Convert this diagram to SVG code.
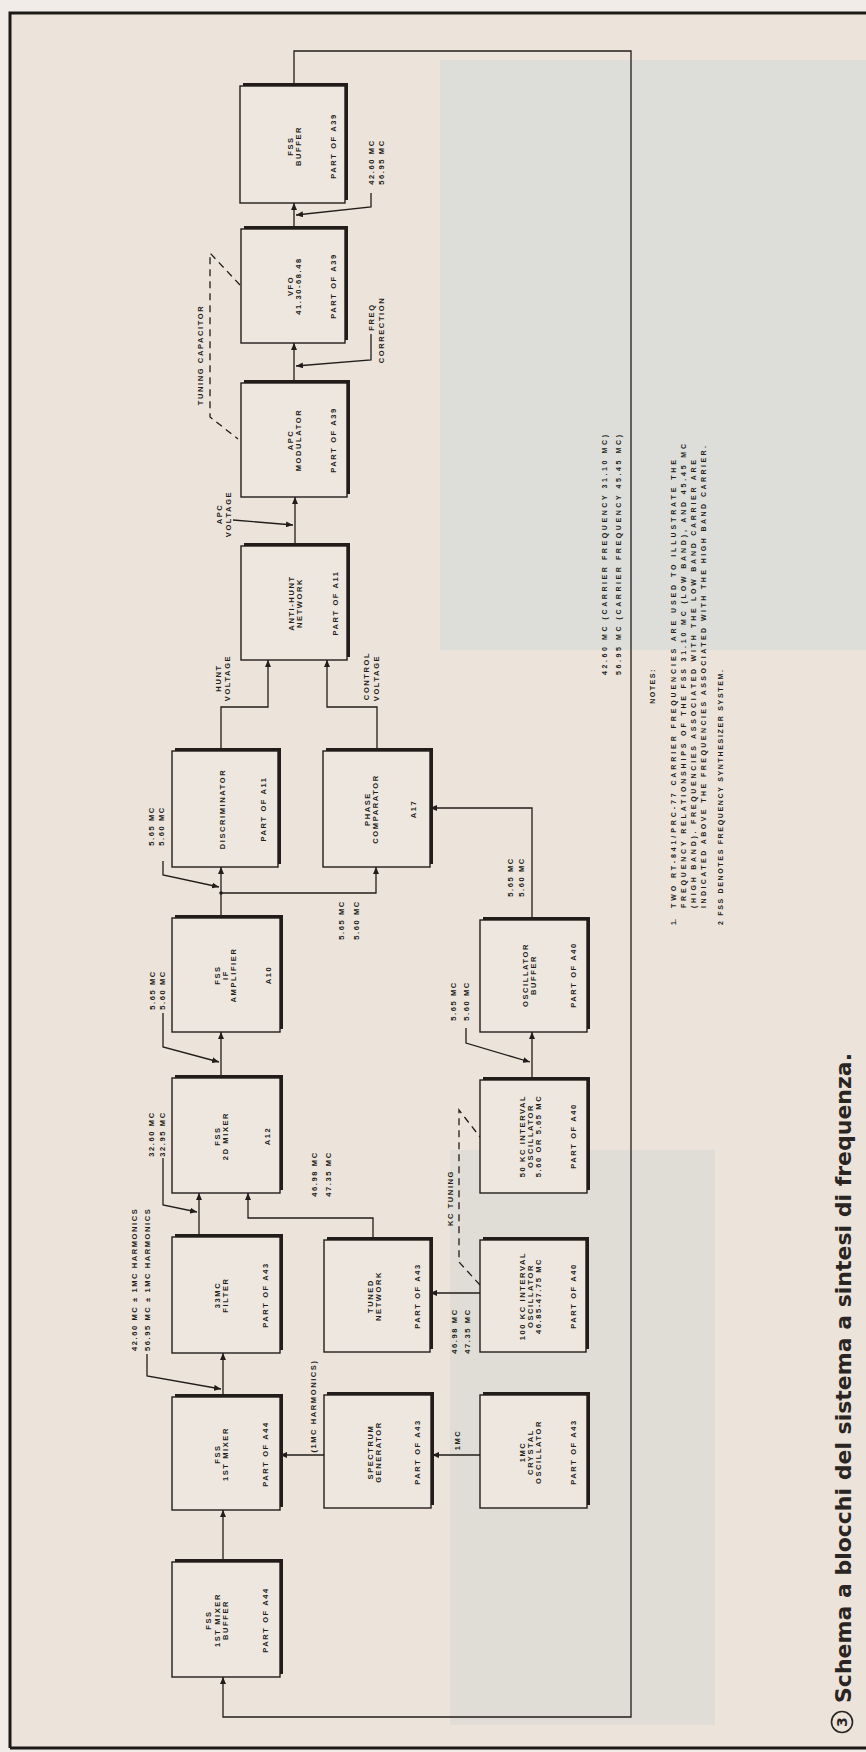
<svg xmlns="http://www.w3.org/2000/svg" width="866" height="1752" viewBox="0 0 866 1752">
<style>
.bg{fill:#ece3da}
.box{fill:#eee7df;stroke:#221d1a;stroke-width:1.4}
.sh{fill:#221d1a}
.t{font-family:'Liberation Sans',Arial,sans-serif;font-weight:bold;font-size:7.5px;fill:#221d1a;letter-spacing:1.6px;text-anchor:middle;dominant-baseline:central}
.s{text-anchor:start}
.n{font-family:'Liberation Sans',Arial,sans-serif;font-weight:bold;font-size:7px;fill:#221d1a;dominant-baseline:central}
.w{fill:none;stroke:#221d1a;stroke-width:1.3}
.d{fill:none;stroke:#221d1a;stroke-width:1.3;stroke-dasharray:7 5}
.cap{font-family:'DejaVu Sans',sans-serif;font-weight:bold;font-size:22px;fill:#2a2522}
</style>
<defs>
<marker id="a" markerUnits="userSpaceOnUse" markerWidth="7" markerHeight="6" refX="7" refY="3" orient="auto"><path d="M0,0 L7,3 L0,6 z" fill="#221d1a"/></marker>
</defs>
<rect x="0" y="0" width="866" height="1752" fill="#f1ece7"/>
<rect class="bg" x="10" y="13" width="856" height="1735"/>
<rect x="440" y="60" width="426" height="590" fill="#dadbd8" opacity="0.8"/>
<rect x="450" y="1150" width="265" height="575" fill="#dcdad6" opacity="0.7"/>
<path d="M10,1748 L10,13 L866,13 M10,1748 L866,1748" fill="none" stroke="#1d1917" stroke-width="3"/>

<g transform="translate(0,1752) rotate(-90)">
<g id="connectors">
<path class="w" d="M190,223 L242,223" marker-end="url(#a)"/>
<path class="w" d="M355,223 L399,223" marker-end="url(#a)"/>
<path class="w" d="M515,199 L559,199" marker-end="url(#a)"/>
<path class="w" d="M515,373 L534,373 L534,248 L559,248" marker-end="url(#a)"/>
<path class="w" d="M674,221 L720,221" marker-end="url(#a)"/>
<path class="w" d="M834,221 L885,221" marker-end="url(#a)"/>
<path class="w" d="M859,221 L859,376 L885,376" marker-end="url(#a)"/>
<circle cx="859" cy="221" r="1.8" fill="#221d1a"/>
<path class="w" d="M835,532 L944,532 L944,430" marker-end="url(#a)"/>
<path class="w" d="M1004,221 L1045,221 L1045,268 L1092,268" marker-end="url(#a)"/>
<path class="w" d="M1004,377 L1045,377 L1045,327 L1092,327" marker-end="url(#a)"/>
<path class="w" d="M1209,295 L1255,295" marker-end="url(#a)"/>
<path class="w" d="M1372,294 L1409,294" marker-end="url(#a)"/>
<path class="w" d="M1526,294 L1549,294" marker-end="url(#a)"/>
<path class="w" d="M1669,294 L1701,294 L1701,631 L35,631 L35,223 L75,223" marker-end="url(#a)"/>
<path class="w" d="M297,480 L297,432" marker-end="url(#a)"/>
<path class="w" d="M297,325 L297,280" marker-end="url(#a)"/>
<path class="w" d="M459,480 L459,430" marker-end="url(#a)"/>
<path class="w" d="M675,532 L720,532" marker-end="url(#a)"/>
<path class="w" d="M1559,371 L1545,371 L1537,296" marker-end="url(#a)"/>
<path class="w" d="M1418,371 L1392,371 L1386,296" marker-end="url(#a)"/>
<path class="w" d="M1232,233 L1227,293" marker-end="url(#a)"/>
<path class="w" d="M891,163 L877,163 L865,219" marker-end="url(#a)"/>
<path class="w" d="M739,163 L705,163 L690,219" marker-end="url(#a)"/>
<path class="w" d="M594,163 L547,163 L540,197" marker-end="url(#a)"/>
<path class="w" d="M398,147 L376,147 L363,221" marker-end="url(#a)"/>
<path class="w" d="M724,466 L709,466 L690,530" marker-end="url(#a)"/>
<path class="d" d="M1467,240 L1499,210 L1335,210 L1313,238"/>
<path class="d" d="M467,480 L490,459 L642,459 L615,480"/>
</g>

<g id="n-buf1"><rect class="sh" x="78" y="175" width="115" height="108"/><rect class="box" x="75" y="172" width="115" height="108"/>
<text class="t" x="132" y="208">FSS</text><text class="t" x="132" y="217">1ST MIXER</text><text class="t" x="132" y="225">BUFFER</text><text class="t" x="132" y="265">PART OF A44</text></g>
<g id="n-mix1"><rect class="sh" x="245" y="175" width="113" height="108"/><rect class="box" x="242" y="172" width="113" height="108"/>
<text class="t" x="298" y="217">FSS</text><text class="t" x="298" y="225">1ST MIXER</text><text class="t" x="298" y="265">PART OF A44</text></g>
<g id="n-filter"><rect class="sh" x="402" y="175" width="116" height="108"/><rect class="box" x="399" y="172" width="116" height="108"/>
<text class="t" x="457" y="217">33MC</text><text class="t" x="457" y="225">FILTER</text><text class="t" x="457" y="265">PART OF A43</text></g>
<g id="n-mix2"><rect class="sh" x="562" y="175" width="115" height="108"/><rect class="box" x="559" y="172" width="115" height="108"/>
<text class="t" x="616" y="217">FSS</text><text class="t" x="616" y="225">2D MIXER</text><text class="t" x="616" y="267">A12</text></g>
<g id="n-if"><rect class="sh" x="723" y="175" width="114" height="108"/><rect class="box" x="720" y="172" width="114" height="108"/>
<text class="t" x="777" y="217">FSS</text><text class="t" x="777" y="225">IF</text><text class="t" x="777" y="233">AMPLIFIER</text><text class="t" x="777" y="268">A10</text></g>
<g id="n-disc"><rect class="sh" x="888" y="175" width="116" height="106"/><rect class="box" x="885" y="172" width="116" height="106"/>
<text class="t" x="943" y="222">DISCRIMINATOR</text><text class="t" x="943" y="263">PART OF A11</text></g>
<g id="n-anti"><rect class="sh" x="1095" y="244" width="114" height="106"/><rect class="box" x="1092" y="241" width="114" height="106"/>
<text class="t" x="1149" y="291">ANTI-HUNT</text><text class="t" x="1149" y="299">NETWORK</text><text class="t" x="1149" y="335">PART OF A11</text></g>
<g id="n-apc"><rect class="sh" x="1258" y="244" width="114" height="106"/><rect class="box" x="1255" y="241" width="114" height="106"/>
<text class="t" x="1312" y="290">APC</text><text class="t" x="1312" y="298">MODULATOR</text><text class="t" x="1312" y="333">PART OF A39</text></g>
<g id="n-vfo"><rect class="sh" x="1412" y="244" width="114" height="104"/><rect class="box" x="1409" y="241" width="114" height="104"/>
<text class="t" x="1466" y="290">VFO</text><text class="t" x="1466" y="298">41.30-68.48</text><text class="t" x="1466" y="333">PART OF A39</text></g>
<g id="n-fssbuf"><rect class="sh" x="1552" y="243" width="117" height="105"/><rect class="box" x="1549" y="240" width="117" height="105"/>
<text class="t" x="1606" y="290">FSS</text><text class="t" x="1606" y="298">BUFFER</text><text class="t" x="1606" y="333">PART OF A39</text></g>
<g id="n-spec"><rect class="sh" x="247" y="327" width="113" height="107"/><rect class="box" x="244" y="324" width="113" height="107"/>
<text class="t" x="300" y="370">SPECTRUM</text><text class="t" x="300" y="378">GENERATOR</text><text class="t" x="300" y="417">PART OF A43</text></g>
<g id="n-tuned"><rect class="sh" x="403" y="327" width="112" height="106"/><rect class="box" x="400" y="324" width="112" height="106"/>
<text class="t" x="456" y="370">TUNED</text><text class="t" x="456" y="378">NETWORK</text><text class="t" x="456" y="417">PART OF A43</text></g>
<g id="n-phase"><rect class="sh" x="888" y="326" width="116" height="107"/><rect class="box" x="885" y="323" width="116" height="107"/>
<text class="t" x="943" y="367">PHASE</text><text class="t" x="943" y="375">COMPARATOR</text><text class="t" x="943" y="413">A17</text></g>
<g id="n-xtal"><rect class="sh" x="247" y="483" width="113" height="107"/><rect class="box" x="244" y="480" width="113" height="107"/>
<text class="t" x="300" y="522">1MC</text><text class="t" x="300" y="530">CRYSTAL</text><text class="t" x="300" y="538">OSCILLATOR</text><text class="t" x="300" y="573">PART OF A43</text></g>
<g id="n-100kc"><rect class="sh" x="403" y="483" width="112" height="106"/><rect class="box" x="400" y="480" width="112" height="106"/>
<text class="t" x="456" y="522">100 KC INTERVAL</text><text class="t" x="456" y="530">OSCILLATOR</text><text class="t" x="456" y="538">46.85-47.75 MC</text><text class="t" x="456" y="573">PART OF A40</text></g>
<g id="n-50kc"><rect class="sh" x="562" y="483" width="113" height="107"/><rect class="box" x="559" y="480" width="113" height="107"/>
<text class="t" x="616" y="522">50 KC INTERVAL</text><text class="t" x="616" y="530">OSCILLATOR</text><text class="t" x="616" y="538">5.60 OR 5.65 MC</text><text class="t" x="616" y="573">PART OF A40</text></g>
<g id="n-oscbuf"><rect class="sh" x="723" y="483" width="112" height="107"/><rect class="box" x="720" y="480" width="112" height="107"/>
<text class="t" x="777" y="525">OSCILLATOR</text><text class="t" x="777" y="533">BUFFER</text><text class="t" x="777" y="573">PART OF A40</text></g>

<g id="labels">
<text class="t" x="1590" y="371">42.60 MC</text><text class="t" x="1590" y="381">56.95 MC</text>
<text class="t" x="1435" y="371">FREQ</text><text class="t" x="1422" y="381">CORRECTION</text>
<text class="t" x="1397" y="200">TUNING CAPACITOR</text>
<text class="t" x="1238" y="219">APC</text><text class="t" x="1238" y="228">VOLTAGE</text>
<text class="t" x="1074" y="218">HUNT</text><text class="t" x="1074" y="227">VOLTAGE</text>
<text class="t" x="1076" y="366">CONTROL</text><text class="t" x="1074" y="376">VOLTAGE</text>
<text class="t" x="926" y="151">5.65 MC</text><text class="t" x="926" y="161">5.60 MC</text>
<text class="t" x="762" y="152">5.65 MC</text><text class="t" x="762" y="162">5.60 MC</text>
<text class="t" x="618" y="151">32.60 MC</text><text class="t" x="618" y="162">32.95 MC</text>
<text class="t s" x="401" y="134">42.60 MC ± 1MC HARMONICS</text><text class="t s" x="401" y="147">56.95 MC ± 1MC HARMONICS</text>
<text class="t" x="346" y="313">(1MC HARMONICS)</text>
<text class="t" x="312" y="457">1MC</text>
<text class="t" x="421" y="454">46.98 MC</text><text class="t" x="421" y="467">47.35 MC</text>
<text class="t" x="578" y="314">46.98 MC</text><text class="t" x="578" y="328">47.35 MC</text>
<text class="t" x="554" y="450">KC TUNING</text>
<text class="t" x="751" y="453">5.65 MC</text><text class="t" x="751" y="466">5.60 MC</text>
<text class="t" x="875" y="510">5.65 MC</text><text class="t" x="875" y="521">5.60 MC</text>
<text class="t" x="832" y="341">5.65 MC</text><text class="t" x="832" y="356">5.60 MC</text>
</g>

<g id="notes">
<text class="n" x="1077" y="604" textLength="240" lengthAdjust="spacing">42.60 MC (CARRIER FREQUENCY 31.10 MC)</text>
<text class="n" x="1077" y="618" textLength="240" lengthAdjust="spacing">56.95 MC (CARRIER FREQUENCY 45.45 MC)</text>
<text class="n" x="1066" y="652" text-anchor="middle" letter-spacing="1.5">NOTES:</text>
<text class="n" x="827" y="673">1.</text>
<text class="n" x="844" y="673" textLength="448" lengthAdjust="spacing">TWO RT-841/PRC-77 CARRIER FREQUENCIES ARE USED TO ILLUSTRATE THE</text>
<text class="n" x="844" y="683" textLength="464" lengthAdjust="spacing">FREQUENCY RELATIONSHIPS OF THE FSS 31.10 MC (LOW BAND), AND 45.45 MC</text>
<text class="n" x="844" y="693" textLength="448" lengthAdjust="spacing">(HIGH BAND). FREQUENCIES ASSOCIATED WITH THE LOW BAND CARRIER ARE</text>
<text class="n" x="844" y="703" textLength="462" lengthAdjust="spacing">INDICATED ABOVE THE FREQUENCIES ASSOCIATED WITH THE HIGH BAND CARRIER.</text>
<text class="n" x="827" y="720" textLength="255" lengthAdjust="spacing">2 FSS DENOTES FREQUENCY SYNTHESIZER SYSTEM.</text>
</g>

<g id="caption">
<circle cx="30" cy="842" r="10.5" fill="none" stroke="#2a2522" stroke-width="1.6"/>
<text class="cap" x="30" y="842" text-anchor="middle" dominant-baseline="central" style="font-size:14px">3</text>
<text class="cap" x="49" y="851" textLength="650" lengthAdjust="spacingAndGlyphs">Schema a blocchi del sistema a sintesi di frequenza.</text>
</g>
</g>
</svg>
